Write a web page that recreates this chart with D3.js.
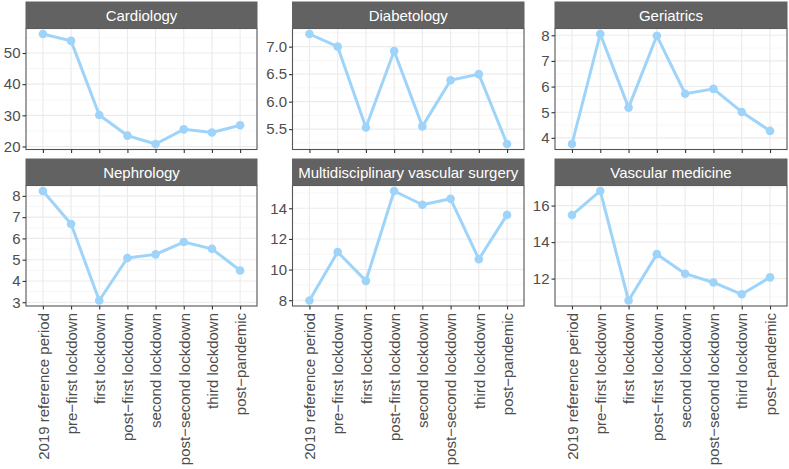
<!DOCTYPE html>
<html>
<head>
<meta charset="utf-8">
<script src="https://cdn.jsdelivr.net/npm/d3@7"></script>
<style>
  body { margin: 0; background: #fff; }
  svg text { font-family: "Liberation Sans", Arial, sans-serif; }
</style>
</head>
<body>
<svg id="chart" width="789" height="469"></svg>
<script>
// periods on the x axis
const periods = ["2019 reference period", "pre\u2212first lockdown", "first lockdown",
  "post\u2212first lockdown", "second lockdown", "post\u2212second lockdown",
  "third lockdown", "post\u2212pandemic"];

const specialties = ["Cardiology", "Diabetology", "Geriatrics",
  "Nephrology", "Multidisciplinary vascular surgery", "Vascular medicine"];

// values
const cardiology = [56.1, 53.9, 30.1, 23.5, 20.8, 25.5, 24.5, 26.8];
const diabetology = [7.23, 7.0, 5.53, 6.92, 5.55, 6.39, 6.5, 5.23];
const geriatrics = [3.76, 8.05, 5.18, 7.98, 5.72, 5.91, 5.01, 4.27];
const nephrology = [8.23, 6.68, 3.08, 5.08, 5.25, 5.83, 5.51, 4.49];
const vascSurgery = [7.98, 11.15, 9.26, 15.13, 14.23, 14.62, 10.68, 13.57];
const vascMedicine = [15.48, 16.8, 10.8, 13.34, 12.27, 11.79, 11.14, 12.07];

// y tick labels per panel
const cardiologyTicks = [20, 30, 40, 50];
const diabetologyTicks = [5.5, 6.0, 6.5, 7.0];
const geriatricsTicks = [4, 5, 6, 7, 8];
const nephrologyTicks = [3, 4, 5, 6, 7, 8];
const vascSurgeryTicks = [8, 10, 12, 14];
const vascMedicineTicks = [12, 14, 16];

const seriesList = [cardiology, diabetology, geriatrics, nephrology, vascSurgery, vascMedicine];
const tickList = [cardiologyTicks, diabetologyTicks, geriatricsTicks, nephrologyTicks, vascSurgeryTicks, vascMedicineTicks];
const tickFmt = [d3.format("d"), d3.format(".1f"), d3.format("d"), d3.format("d"), d3.format("d"), d3.format("d")];

const svg = d3.select("#chart");

const COLS = [[26, 257], [292.5, 524], [555, 787]];
const ROWS = [{ strip: 1.5, top: 28.5, bottom: 149.5 }, { strip: 158.5, top: 185.5, bottom: 306 }];
const LINE = "#9fd4fa";
const TEXT = "#4d4d4d";

specialties.forEach((name, i) => {
  const col = COLS[i % 3], row = ROWS[Math.floor(i / 3)];
  const data = seriesList[i];
  const ticks = tickList[i];

  const x = d3.scalePoint().domain(periods).range(col).padding(0.6);
  const ext = d3.extent(data);
  const pad = (ext[1] - ext[0]) * 0.05;
  const y = d3.scaleLinear().domain([ext[0] - pad, ext[1] + pad]).range([row.bottom, row.top]);

  const g = svg.append("g");

  // panel background
  g.append("rect")
    .attr("x", col[0]).attr("y", row.top)
    .attr("width", col[1] - col[0]).attr("height", row.bottom - row.top)
    .attr("fill", "#fff");

  // minor grid
  const step = ticks[1] - ticks[0];
  const minor = [ticks[0] - step / 2].concat(ticks.map(t => t + step / 2))
    .filter(v => v > y.domain()[0] && v < y.domain()[1]);
  g.selectAll(".minor").data(minor).join("line")
    .attr("x1", col[0]).attr("x2", col[1])
    .attr("y1", d => y(d)).attr("y2", d => y(d))
    .attr("stroke", "#f2f2f2").attr("stroke-width", 0.6);

  // major grid
  g.selectAll(".majorY").data(ticks).join("line")
    .attr("x1", col[0]).attr("x2", col[1])
    .attr("y1", d => y(d)).attr("y2", d => y(d))
    .attr("stroke", "#ebebeb").attr("stroke-width", 1.1);
  g.selectAll(".majorX").data(periods).join("line")
    .attr("x1", d => x(d)).attr("x2", d => x(d))
    .attr("y1", row.top).attr("y2", row.bottom)
    .attr("stroke", "#ebebeb").attr("stroke-width", 1.1);

  // line + points
  const line = d3.line()
    .x((d, j) => x(periods[j]))
    .y(d => y(d));
  g.append("path")
    .datum(data)
    .attr("fill", "none")
    .attr("stroke", LINE)
    .attr("stroke-width", 3)
    .attr("stroke-linejoin", "round")
    .attr("d", line);
  g.selectAll(".pt").data(data).join("circle")
    .attr("cx", (d, j) => x(periods[j]))
    .attr("cy", d => y(d))
    .attr("r", 4.3)
    .attr("fill", LINE);

  // panel border
  g.append("rect")
    .attr("x", col[0]).attr("y", row.top)
    .attr("width", col[1] - col[0]).attr("height", row.bottom - row.top)
    .attr("fill", "none").attr("stroke", "#555").attr("stroke-width", 1.1);

  // strip
  g.append("rect")
    .attr("x", col[0] - 0.5).attr("y", row.strip)
    .attr("width", col[1] - col[0] + 1).attr("height", row.top - row.strip)
    .attr("fill", "#626262");
  g.append("text")
    .attr("x", (col[0] + col[1]) / 2).attr("y", (row.strip + row.top) / 2)
    .attr("text-anchor", "middle").attr("dominant-baseline", "central")
    .attr("fill", "#fff").attr("font-size", 15)
    .text(name);

  // y axis
  const yAxis = d3.axisLeft(y).tickValues(ticks).tickFormat(tickFmt[i]).tickSize(3.5).tickPadding(2);
  const ya = g.append("g").attr("transform", `translate(${col[0]},0)`).call(yAxis);
  ya.select(".domain").remove();
  ya.selectAll(".tick line").attr("stroke", "#333").attr("stroke-width", 1.1);
  ya.selectAll(".tick text").attr("fill", TEXT).attr("font-size", 15);

  // x axis
  const xAxis = d3.axisBottom(x).tickSize(3.5).tickFormat(i >= 3 ? d => d : () => "");
  const xa = g.append("g").attr("transform", `translate(0,${row.bottom})`).call(xAxis);
  xa.select(".domain").remove();
  xa.selectAll(".tick line").attr("stroke", "#333").attr("stroke-width", 1.1);
  xa.selectAll(".tick text")
    .attr("fill", TEXT).attr("font-size", 15)
    .attr("transform", "rotate(-90)")
    .attr("x", -7).attr("y", 0).attr("dy", "0.35em")
    .attr("text-anchor", "end");
});
</script>
</body>
</html>
